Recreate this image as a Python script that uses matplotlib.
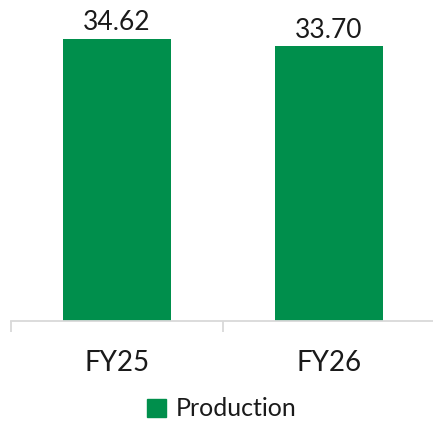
import matplotlib
matplotlib.use("Agg")
import matplotlib.pyplot as plt
from matplotlib.patches import Patch

# data
categories = ["FY25", "FY26"]
production = [34.62, 33.70]
series_name = "Production"

plt.rcParams['font.family'] = ['Lato', 'DejaVu Sans']

fig = plt.figure(figsize=(4.33, 4.24), dpi=100)
ax = fig.add_axes([11/433, (424-320.5)/424, 424/433, 320.5/424])

x = range(len(categories))
bars = ax.bar(x, production, width=0.505, color="#008F4C")
ax.set_xlim(-0.5, 1.5)
ax.set_ylim(0, 39.35)

for b, v in zip(bars, production):
    ax.text(b.get_x() + b.get_width()/2, v + 0.4, "%.2f" % v,
            ha="center", va="bottom", fontsize=19, color="#1a1a1a")

for s in ["top", "right", "left"]:
    ax.spines[s].set_visible(False)
ax.spines["bottom"].set_color("#D9D9D9")
ax.spines["bottom"].set_linewidth(1.3)
ax.set_yticks([])
ax.set_xticks([-0.5, 0.5, 1.5], minor=False)
ax.set_xticklabels([])
ax.tick_params(axis="x", which="major", length=8, width=1.3, color="#D9D9D9")
ax.set_xticks(list(x), minor=True)
ax.set_xticklabels(categories, minor=True, fontsize=20, color="#1a1a1a")
ax.tick_params(axis="x", which="minor", length=0, pad=21)

fig.legend(handles=[Patch(color="#008F4C", label=series_name)],
           loc="center", bbox_to_anchor=(222/433, 1 - 409/424), frameon=False,
           fontsize=18, handlelength=0.75, handleheight=0.75, handletextpad=0.4,
           labelcolor="#1a1a1a")

fig.savefig("out.png", dpi=100)
